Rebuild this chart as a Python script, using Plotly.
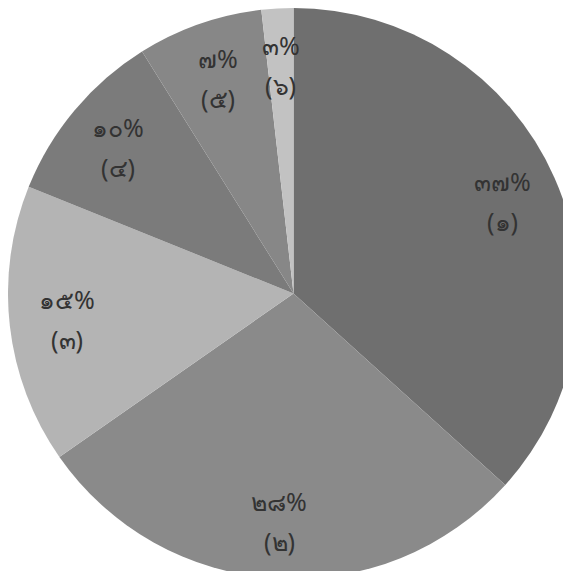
import math

import plotly.graph_objects as go

# slice shares as drawn (the printed percentages are rounded)
slice_ids = ["๑", "๒", "๓", "๔", "๕", "๖"]
shares = [36.7, 28.6, 15.8, 10.0, 7.1, 1.8]
pct_labels = ["๓๗%", "๒๘%", "๑๕%", "๑๐%", "๗%", "๓%"]
colors = ["#6f6f6f", "#8a8a8a", "#b4b4b4", "#7b7b7b", "#878787", "#c2c2c2"]

_TEXT = dict(size=25, color="#333333", family="Noto Sans, DejaVu Sans, sans-serif")

fig = go.Figure(go.Pie(
    labels=slice_ids,
    values=shares,
    textinfo="none",
    sort=False,
    direction="clockwise",
    rotation=0,
    marker=dict(colors=colors, line=dict(width=0)),
    domain=dict(x=[0, 1], y=[0, 1]),
    hoverinfo="skip",
))

# labels sit at ~0.8 of the radius, on each slice's middle angle
total = sum(shares)
start = 0.0
for pct, sid, share in zip(pct_labels, slice_ids, shares):
    mid = (start + share / 2) / total * 2 * math.pi
    start += share
    x = 0.5 + 0.5 * 0.8 * math.sin(mid)
    y = 0.5 + 0.5 * 0.8 * math.cos(mid)
    for txt, shift in ((pct, 20), (f"({sid})", -20)):
        fig.add_annotation(x=x, y=y, xref="paper", yref="paper", text=txt,
                           xanchor="center", yanchor="middle",
                           showarrow=False, yshift=shift, font=_TEXT)

fig.update_layout(
    width=571, height=571,
    margin=dict(l=0, r=0, t=0, b=0),
    paper_bgcolor="white",
    showlegend=False,
)

fig.write_html("out.html")
